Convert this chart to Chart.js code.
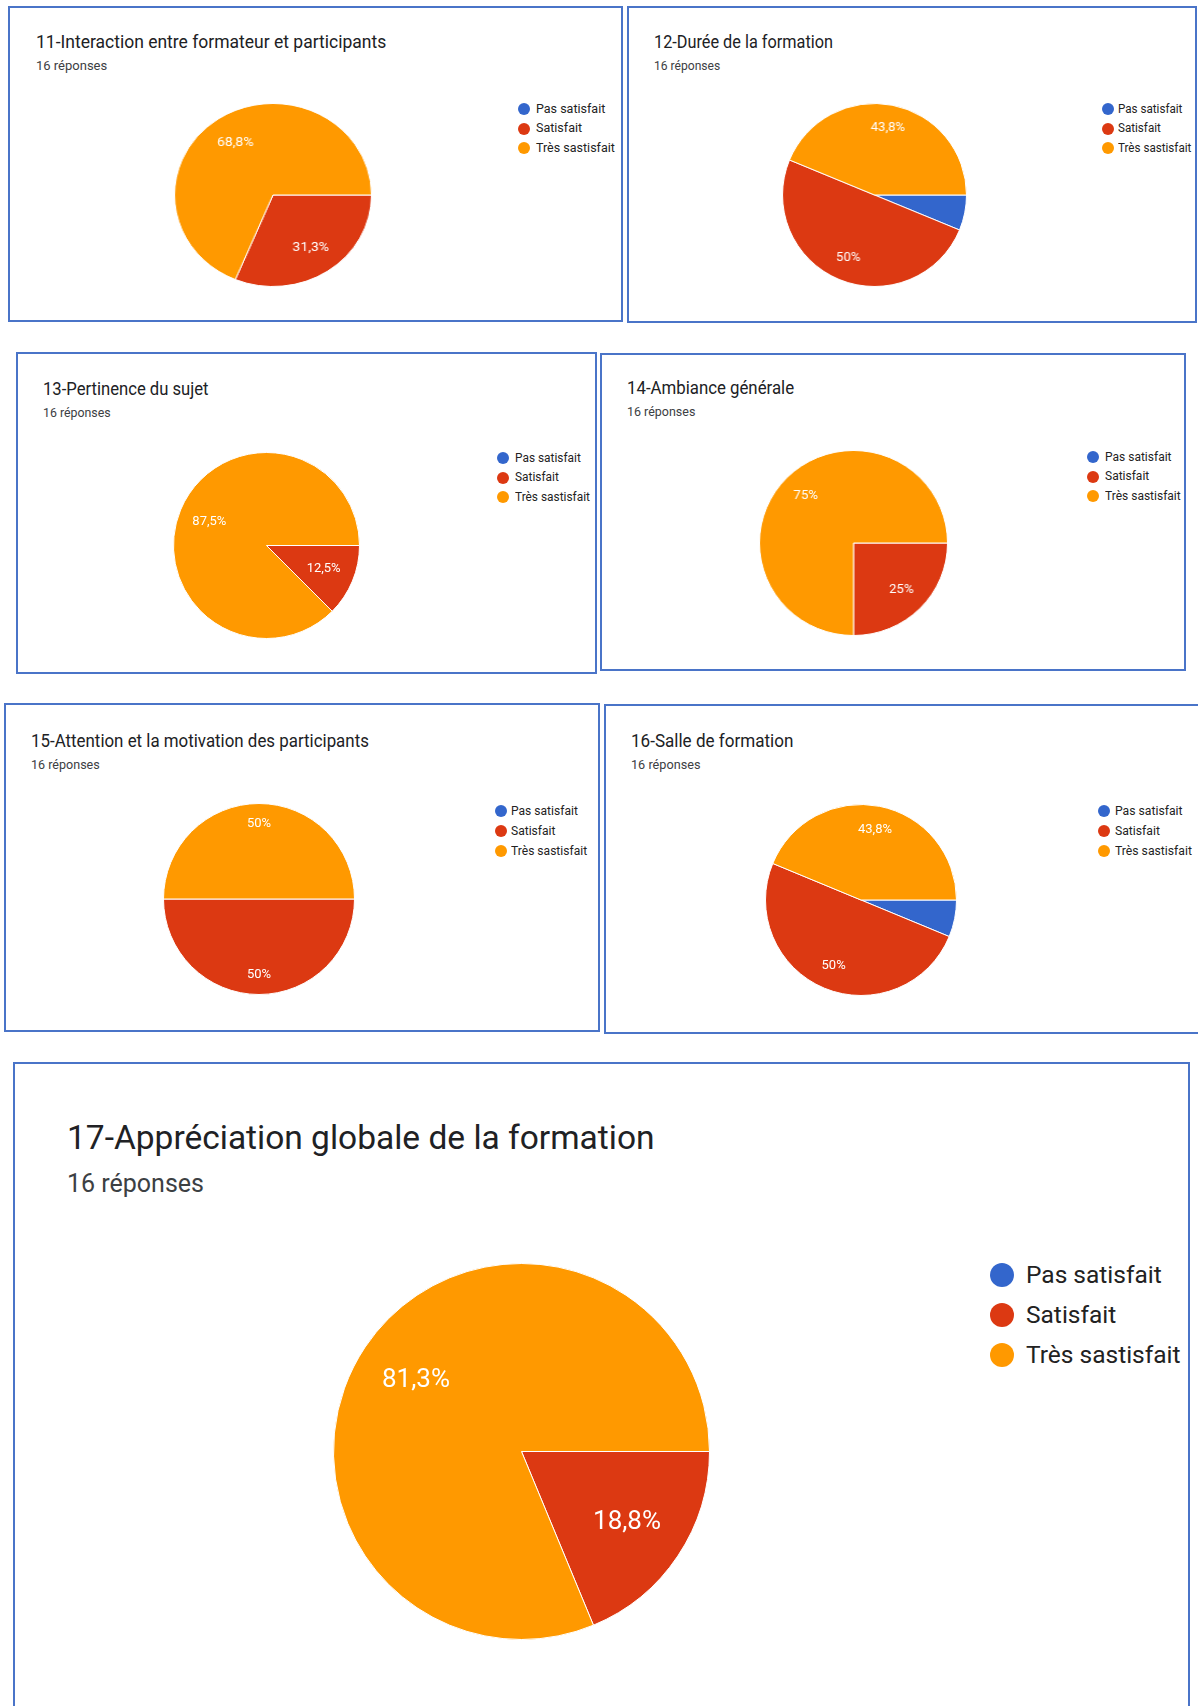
<!DOCTYPE html>
<html lang="fr">
<head>
<meta charset="utf-8">
<title>Évaluation de la formation</title>
<script src="https://cdn.jsdelivr.net/npm/chart.js@4.4.0/dist/chart.umd.min.js"></script>
<style>
  html, body { margin: 0; padding: 0; background: #fff; }
  body { width: 1198px; height: 1706px; position: relative; overflow: hidden; font-family: Roboto, Arial, sans-serif; }
  .panel { position: absolute; box-sizing: border-box; border: 2px solid #4a74c8; }
  .txt { position: absolute; white-space: nowrap; line-height: 1; transform-origin: 0 50%; }
  .title { color: #202124; }
  .sub { color: #3c4043; }
  .leg { color: #222; }
  .dot { position: absolute; border-radius: 50%; }
  canvas { position: absolute; }
</style>
</head>
<body>
<script>
// categories and colours shared by every question
const categories = ['Pas satisfait', 'Satisfait', 'Très sastisfait'];
const colors = ['#3366cc', '#dc3912', '#ff9900'];
const answerCount = '16 réponses';

// one title + counts (out of 16) per question
const titles = [
    '11-Interaction entre formateur et participants',
    '12-Durée de la formation',
    '13-Pertinence du sujet',
    '14-Ambiance générale',
    '15-Attention et la motivation des participants',
    '16-Salle de formation',
    '17-Appréciation globale de la formation'
];
const q11 = [0, 5, 11];
const q12 = [1, 8, 7];
const q13 = [0, 2, 14];
const q14 = [0, 4, 12];
const q15 = [0, 8, 8];
const q16 = [1, 8, 7];
const q17 = [0, 3, 13];
const series = [q11, q12, q13, q14, q15, q16, q17];

// font sizes: title, subtitle, legend, slice label, legend dot
const smallFonts = [17.5, 13, 12.5, 13, 12];
const bigFonts = [33.5, 25, 24.5, 26, 24];

// page layout (px): frame box, title/sub position, pie centre+size, legend, label distance,
// sx = horizontal squeeze of the screenshot each panel came from
const layout = [
    { box: [8, 6, 615, 316],     title: [36, 43],  sub: 65,   pie: [273, 195, 196, 182], leg: [524, 536, 109, 19.5],  dist: 0.69,  sx: 1,     fonts: smallFonts },
    { box: [627, 6, 570, 317],   title: [654, 43], sub: 65,   pie: [874, 195, 183, 182], leg: [1108, 1118, 109, 19.5], dist: 0.745, sx: 0.93,  fonts: smallFonts },
    { box: [16, 352, 581, 322],  title: [43, 390], sub: 412,  pie: [266, 545, 185, 185], leg: [503, 515, 458, 19.5],  dist: 0.665, sx: 0.95,  fonts: smallFonts },
    { box: [600, 353, 586, 318], title: [627, 389], sub: 411, pie: [853, 543, 187, 184], leg: [1093, 1105, 457, 19.5], dist: 0.72,  sx: 0.96,  fonts: smallFonts },
    { box: [4, 703, 596, 329],   title: [31, 742], sub: 764,  pie: [259, 899, 190, 190], leg: [501, 511, 811, 20],    dist: 0.79,  sx: 0.965, fonts: smallFonts },
    { box: [604, 704, 610, 330], title: [631, 742], sub: 764, pie: [861, 900, 190, 190], leg: [1104, 1115, 811, 20],  dist: 0.75,  sx: 0.975, fonts: smallFonts },
    { box: [13, 1062, 1177, 700], title: [67, 1138], sub: 1183, pie: [521, 1451, 375, 375], leg: [1002, 1026, 1275, 40], dist: 0.675, sx: 1,  fonts: bigFonts }
];

// white percentage text inside each slice, placed along the mid angle
const sliceLabels = {
    id: 'sliceLabels',
    afterDatasetsDraw(chart, args, opts) {
        const ctx = chart.ctx;
        const data = chart.data.datasets[0].data;
        const total = data.reduce((a, b) => a + b, 0);
        ctx.save();
        ctx.font = opts.size + 'px Roboto, Arial, sans-serif';
        ctx.fillStyle = '#fff';
        ctx.textAlign = 'center';
        ctx.textBaseline = 'middle';
        chart.getDatasetMeta(0).data.forEach((arc, i) => {
            const share = data[i] / total;
            if (share < 0.08) return;
            const p = arc.getProps(['x', 'y', 'startAngle', 'endAngle', 'outerRadius'], true);
            const mid = (p.startAngle + p.endAngle) / 2;
            const r = p.outerRadius * opts.dist;
            const txt = (Math.round(share * 1000) / 10).toString().replace('.', ',') + '%';
            ctx.fillText(txt, p.x + Math.cos(mid) * r, p.y + Math.sin(mid) * r);
        });
        ctx.restore();
    }
};

function addText(cls, text, x, cy, size, sx) {
    const el = document.createElement('div');
    el.className = 'txt ' + cls;
    el.textContent = text;
    el.style.left = x + 'px';
    el.style.top = (cy - size * 0.5) + 'px';
    el.style.fontSize = size + 'px';
    if (sx !== 1) el.style.transform = 'scaleX(' + sx + ')';
    document.body.appendChild(el);
}

series.forEach((values, n) => {
    const L = layout[n];
    const f = L.fonts;

    const frame = document.createElement('div');
    frame.className = 'panel';
    frame.style.left = L.box[0] + 'px';
    frame.style.top = L.box[1] + 'px';
    frame.style.width = L.box[2] + 'px';
    frame.style.height = L.box[3] + 'px';
    document.body.appendChild(frame);

    addText('title', titles[n], L.title[0], L.title[1], f[0], L.sx);
    addText('sub', answerCount, L.title[0], L.sub, f[1], L.sx);

    // legend
    categories.forEach((c, i) => {
        const cy = L.leg[2] + i * L.leg[3];
        const d = f[4];
        const dot = document.createElement('div');
        dot.className = 'dot';
        dot.style.background = colors[i];
        dot.style.width = d + 'px';
        dot.style.height = d + 'px';
        dot.style.left = (L.leg[0] - d / 2) + 'px';
        dot.style.top = (cy - d / 2) + 'px';
        document.body.appendChild(dot);
        addText('leg', c, L.leg[1], cy, f[2], L.sx);
    });

    // pie canvas (stretched with css when the original pie is slightly oval)
    const [cx, cy, w, h] = L.pie;
    const side = Math.min(w, h) + 2;
    const canvas = document.createElement('canvas');
    canvas.width = side;
    canvas.height = side;
    canvas.style.width = (w + 2) + 'px';
    canvas.style.height = (h + 2) + 'px';
    canvas.style.left = (cx - (w + 2) / 2) + 'px';
    canvas.style.top = (cy - (h + 2) / 2) + 'px';
    document.body.appendChild(canvas);

    new Chart(canvas.getContext('2d'), {
        type: 'pie',
        data: {
            labels: categories,
            datasets: [{
                data: values,
                backgroundColor: colors,
                borderColor: '#ffffff',
                borderWidth: 1,
                hoverOffset: 0
            }]
        },
        options: {
            responsive: false,
            animation: false,
            rotation: 90,
            layout: { padding: 0 },
            plugins: {
                legend: { display: false },
                tooltip: { enabled: false },
                sliceLabels: { size: f[3], dist: L.dist }
            }
        },
        plugins: [sliceLabels]
    });
});
</script>
</body>
</html>
